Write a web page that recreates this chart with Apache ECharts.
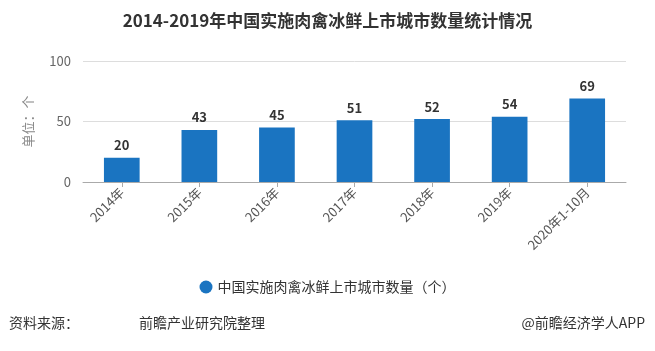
<!DOCTYPE html>
<html>
<head>
<meta charset="utf-8">
<script src="https://cdn.jsdelivr.net/npm/echarts@6/dist/echarts.min.js"></script>
<style>
  html, body { margin: 0; padding: 0; background: #fff; }
  #chart { width: 655px; height: 351px; }
</style>
</head>
<body>
<div id="chart"></div>
<script>
  var categories = ['2014年', '2015年', '2016年', '2017年', '2018年', '2019年', '2020年1-10月']
  var cityCount = [20, 43, 45, 51, 52, 54, 69]
  var yTicks = [0, 50, 100]

  var font = '"Noto Sans CJK SC", "Microsoft YaHei", sans-serif'
  var chart = echarts.init(document.getElementById('chart'))
  chart.setOption({
    animation: false,
    textStyle: { fontFamily: font },
    title: {
      text: '2014-2019年中国实施肉禽冰鲜上市城市数量统计情况',
      left: 'center',
      top: 7,
      textStyle: { fontSize: 17, fontWeight: 'bold', color: '#333', fontFamily: font }
    },
    legend: {
      bottom: 52,
      left: 'center',
      icon: 'circle',
      itemWidth: 13,
      itemHeight: 13,
      itemGap: 8,
      textStyle: { fontSize: 14, color: '#333' },
      data: ['中国实施肉禽冰鲜上市城市数量（个）']
    },
    grid: {
      left: 83,
      right: 29,
      top: 61,
      bottom: 169
    },
    xAxis: {
      type: 'category',
      data: categories,
      axisLine: { lineStyle: { color: '#aaa' } },
      axisTick: { show: true, alignWithLabel: true, length: 5, lineStyle: { color: '#aaa' } },
      axisLabel: { rotate: 45, fontSize: 13, color: '#555', margin: 8, interval: 0 }
    },
    yAxis: {
      type: 'value',
      min: yTicks[0],
      max: yTicks[yTicks.length - 1],
      interval: 50,
      name: '单位：个',
      nameLocation: 'middle',
      nameGap: 48,
      nameRotate: 90,
      nameTextStyle: { fontSize: 13, color: '#888' },
      axisLine: { show: false },
      axisTick: { show: false },
      axisLabel: { fontSize: 13, color: '#666', margin: 12 },
      splitLine: { lineStyle: { color: '#ddd' } }
    },
    series: [{
      name: '中国实施肉禽冰鲜上市城市数量（个）',
      type: 'bar',
      barWidth: '46%',
      data: cityCount,
      itemStyle: { color: '#1a74c1' },
      label: {
        show: true,
        position: 'top',
        distance: 6,
        fontSize: 13,
        fontWeight: 'bold',
        color: '#333'
      }
    }],
    graphic: [
      { type: 'text', left: 9, top: 316, style: { text: '资料来源：', fill: '#333', font: '14px ' + font } },
      { type: 'text', left: 139, top: 316, style: { text: '前瞻产业研究院整理', fill: '#333', font: '14px ' + font } },
      { type: 'text', right: 10, top: 316, style: { text: '@前瞻经济学人APP', fill: '#333', font: '14px ' + font } }
    ]
  })
</script>
</body>
</html>
